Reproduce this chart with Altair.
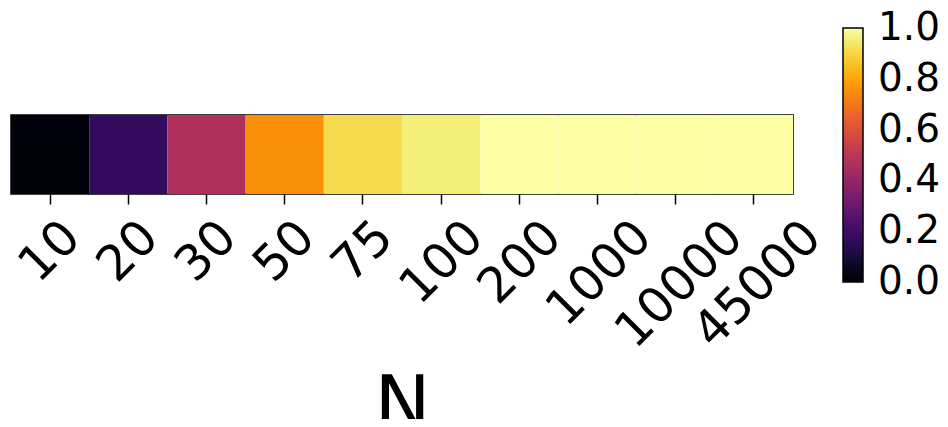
import altair as alt
import pandas as pd

# Data (one row, colormap inferno 0..1)
n_labels = ["10", "20", "30", "50", "75", "100", "200", "1000", "10000", "45000"]
scores = [0.01, 0.165, 0.47, 0.755, 0.91, 0.955, 1.0, 1.0, 1.0, 1.0]
legend_values = [0.0, 0.2, 0.4, 0.6, 0.8, 1.0]
# colour domain 0..1 (a hair wider so the end labels stay centred on their ticks)
color_domain = [-0.000001, 1.000001]

df = pd.DataFrame({"N": n_labels, "score": scores})

FONT = "DejaVu Sans"

label_offset = {
    "condition": [
        {"test": "length(datum.label) == 2", "value": 5},
        {"test": "length(datum.label) == 3", "value": 17},
        {"test": "length(datum.label) == 4", "value": 29},
    ],
    "value": 42,
}

chart = (
    alt.Chart(df)
    .mark_rect()
    .encode(
        x=alt.X(
            "N:N",
            sort=n_labels,
            scale=alt.Scale(paddingInner=0, paddingOuter=0),
            axis=alt.Axis(
                title="N",
                labelAngle=-45,
                labelAlign="right",
                labelBaseline="top",
                labelFontSize=49,
                labelFont=FONT,
                labelColor="black",
                labelPadding=8,
                labelOffset=label_offset,
                labelOverlap=False,
                labelBound=False,
                tickSize=10,
                tickWidth=1.5,
                tickColor="black",
                domain=False,
                titleFontSize=75,
                titleFont=FONT,
                titleFontWeight="normal",
                titleColor="black",
                titleY=234,
                titleBaseline="alphabetic",
            ),
        ),
        color=alt.Color(
            "score:Q",
            scale=alt.Scale(scheme="inferno", domain=color_domain, nice=False),
            legend=alt.Legend(
                title=None,
                orient="none",
                legendX=832,
                legendY=-87,
                direction="vertical",
                gradientLength=254,
                gradientThickness=20,
                gradientStrokeColor="black",
                gradientStrokeWidth=1.5,
                values=legend_values,
                format=".1f",
                labelFontSize=39,
                labelFont=FONT,
                labelColor="black",
                labelOffset=15,
                labelOverlap=False,
            ),
        ),
    )
    .properties(
        width=782,
        height=79,
        autosize=alt.AutoSizeParams(type="none"),
        padding={"left": 3, "top": 107, "right": 147, "bottom": 225},
    )
    .configure(font=FONT)
    .configure_view(stroke="black", strokeWidth=1.5)
)

chart.save("out.html", embed_options={"renderer": "svg", "actions": False})
